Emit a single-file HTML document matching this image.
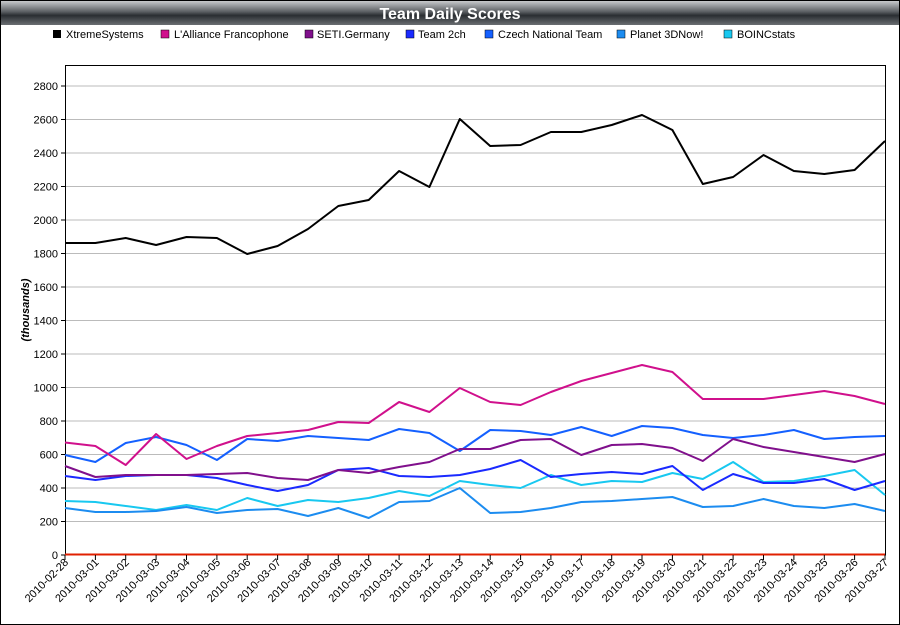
<!DOCTYPE html><html><head><style>body{margin:0;background:#fff}svg{display:block;font-family:"Liberation Sans",sans-serif}</style></head><body>
<svg width="900" height="625" xmlns="http://www.w3.org/2000/svg">
<defs><linearGradient id="g" x1="0" y1="0" x2="0" y2="1"><stop offset="0" stop-color="#c8cacc"/><stop offset="0.45" stop-color="#5a5e62"/><stop offset="0.6" stop-color="#2a2e32"/><stop offset="1" stop-color="#6a6e72"/></linearGradient></defs>
<rect x="0.5" y="0.5" width="899" height="624" fill="#fff" stroke="#000"/>
<rect x="1" y="1" width="898" height="24" fill="url(#g)"/>
<text x="450" y="19" text-anchor="middle" font-size="16" font-weight="bold" fill="#fff">Team Daily Scores</text>
<g font-size="11" fill="#000">
<rect x="53" y="30" width="8" height="8" fill="#000"/><text x="66" y="38">XtremeSystems</text>
<rect x="161" y="30" width="8" height="8" fill="#d0108c" stroke="#000" stroke-width=".5"/><text x="174" y="38">L'Alliance Francophone</text>
<rect x="305" y="30" width="8" height="8" fill="#80108c" stroke="#000" stroke-width=".5"/><text x="317" y="38">SETI.Germany</text>
<rect x="406" y="30" width="8" height="8" fill="#1a2aff" stroke="#000" stroke-width=".5"/><text x="418" y="38">Team 2ch</text>
<rect x="485" y="30" width="8" height="8" fill="#1460ff" stroke="#000" stroke-width=".5"/><text x="498" y="38">Czech National Team</text>
<rect x="617" y="30" width="8" height="8" fill="#1c8cf0" stroke="#000" stroke-width=".5"/><text x="630" y="38">Planet 3DNow!</text>
<rect x="724" y="30" width="8" height="8" fill="#18c8f0" stroke="#000" stroke-width=".5"/><text x="737" y="38">BOINCstats</text>
</g>
<g stroke="#bbb" stroke-width="1">
<line x1="65" x2="885" y1="521.5" y2="521.5"/><line x1="65" x2="885" y1="488" y2="488"/><line x1="65" x2="885" y1="454.5" y2="454.5"/><line x1="65" x2="885" y1="421" y2="421"/><line x1="65" x2="885" y1="387.5" y2="387.5"/><line x1="65" x2="885" y1="354" y2="354"/><line x1="65" x2="885" y1="320.5" y2="320.5"/><line x1="65" x2="885" y1="287" y2="287"/><line x1="65" x2="885" y1="253.5" y2="253.5"/><line x1="65" x2="885" y1="220" y2="220"/><line x1="65" x2="885" y1="186.5" y2="186.5"/><line x1="65" x2="885" y1="153" y2="153"/><line x1="65" x2="885" y1="119.5" y2="119.5"/><line x1="65" x2="885" y1="86" y2="86"/>
</g>
<rect x="65.5" y="65.5" width="820" height="489.5" fill="none" stroke="#000"/>
<g font-size="11" text-anchor="end">
<text x="58" y="559">0</text><text x="58" y="525.5">200</text><text x="58" y="492">400</text><text x="58" y="458.5">600</text><text x="58" y="425">800</text><text x="58" y="391.5">1000</text><text x="58" y="358">1200</text><text x="58" y="324.5">1400</text><text x="58" y="291">1600</text><text x="58" y="257.5">1800</text><text x="58" y="224">2000</text><text x="58" y="190.5">2200</text><text x="58" y="157">2400</text><text x="58" y="123.5">2600</text><text x="58" y="90">2800</text>
</g>
<g stroke="#000"><line x1="61" x2="65" y1="555" y2="555"/><line x1="61" x2="65" y1="521.5" y2="521.5"/><line x1="61" x2="65" y1="488" y2="488"/><line x1="61" x2="65" y1="454.5" y2="454.5"/><line x1="61" x2="65" y1="421" y2="421"/><line x1="61" x2="65" y1="387.5" y2="387.5"/><line x1="61" x2="65" y1="354" y2="354"/><line x1="61" x2="65" y1="320.5" y2="320.5"/><line x1="61" x2="65" y1="287" y2="287"/><line x1="61" x2="65" y1="253.5" y2="253.5"/><line x1="61" x2="65" y1="220" y2="220"/><line x1="61" x2="65" y1="186.5" y2="186.5"/><line x1="61" x2="65" y1="153" y2="153"/><line x1="61" x2="65" y1="119.5" y2="119.5"/><line x1="61" x2="65" y1="86" y2="86"/></g>
<text transform="translate(29,310) rotate(-90)" text-anchor="middle" font-size="11" font-weight="bold" font-style="italic">(thousands)</text>
<line x1="65" x2="885" y1="554.5" y2="554.5" stroke="#e02000" stroke-width="2"/>
<g fill="none" stroke-width="2" stroke-linejoin="round">
<polyline stroke="#18c8f0" points="65,501 95.4,502 125.7,506 156.1,510 186.5,505 216.9,510 247.2,498 277.6,506 308,500 338.3,502 368.7,498 399.1,491 429.4,496 459.8,481 490.2,485 520.6,488 550.9,475 581.3,485 611.7,481 642,482 672.4,473 702.8,479 733.1,462 763.5,482 793.9,481 824.3,476 854.6,470 885,495"/>
<polyline stroke="#1c8cf0" points="65,508 95.4,512 125.7,512 156.1,511 186.5,507 216.9,513 247.2,510 277.6,509 308,516 338.3,508 368.7,518 399.1,502 429.4,501 459.8,488 490.2,513 520.6,512 550.9,508 581.3,502 611.7,501 642,499 672.4,497 702.8,507 733.1,506 763.5,499 793.9,506 824.3,508 854.6,504 885,511"/>
<polyline stroke="#1460ff" points="65,455 95.4,462 125.7,443 156.1,437 186.5,445 216.9,460 247.2,439 277.6,441 308,436 338.3,438 368.7,440 399.1,429 429.4,433 459.8,451 490.2,430 520.6,431 550.9,435 581.3,427 611.7,436 642,426 672.4,428 702.8,435 733.1,438 763.5,435 793.9,430 824.3,439 854.6,437 885,436"/>
<polyline stroke="#1a2aff" points="65,476 95.4,480 125.7,476 156.1,475 186.5,475 216.9,478 247.2,485 277.6,491 308,485 338.3,470 368.7,468 399.1,476 429.4,477 459.8,475 490.2,469 520.6,460 550.9,477 581.3,474 611.7,472 642,474 672.4,466 702.8,490 733.1,474 763.5,483 793.9,483 824.3,479 854.6,490 885,481"/>
<polyline stroke="#80108c" points="65,466 95.4,477 125.7,475 156.1,475 186.5,475 216.9,474 247.2,473 277.6,478 308,480 338.3,470 368.7,473 399.1,467 429.4,462 459.8,449 490.2,449 520.6,440 550.9,439 581.3,455 611.7,445 642,444 672.4,448 702.8,461 733.1,439 763.5,447 793.9,452 824.3,457 854.6,462 885,454"/>
<polyline stroke="#d0108c" points="65,442.5 95.4,446 125.7,465 156.1,434 186.5,459 216.9,446 247.2,436 277.6,433 308,430 338.3,422 368.7,423 399.1,402 429.4,412 459.8,388 490.2,402 520.6,405 550.9,392 581.3,381 611.7,373 642,365 672.4,372 702.8,399 733.1,399 763.5,399 793.9,395 824.3,391 854.6,396 885,404"/>
<polyline stroke="#000" points="65,243 95.4,243 125.7,238 156.1,245 186.5,237 216.9,238 247.2,254 277.6,246 308,229 338.3,206 368.7,200 399.1,171 429.4,187 459.8,119 490.2,146 520.6,145 550.9,132 581.3,132 611.7,125 642,115 672.4,130 702.8,184 733.1,177 763.5,155 793.9,171 824.3,174 854.6,170 885,141"/>
</g>
<g stroke="#000"><line x1="65" x2="65" y1="555" y2="560"/><line x1="95.4" x2="95.4" y1="555" y2="560"/><line x1="125.7" x2="125.7" y1="555" y2="560"/><line x1="156.1" x2="156.1" y1="555" y2="560"/><line x1="186.5" x2="186.5" y1="555" y2="560"/><line x1="216.9" x2="216.9" y1="555" y2="560"/><line x1="247.2" x2="247.2" y1="555" y2="560"/><line x1="277.6" x2="277.6" y1="555" y2="560"/><line x1="308" x2="308" y1="555" y2="560"/><line x1="338.3" x2="338.3" y1="555" y2="560"/><line x1="368.7" x2="368.7" y1="555" y2="560"/><line x1="399.1" x2="399.1" y1="555" y2="560"/><line x1="429.4" x2="429.4" y1="555" y2="560"/><line x1="459.8" x2="459.8" y1="555" y2="560"/><line x1="490.2" x2="490.2" y1="555" y2="560"/><line x1="520.6" x2="520.6" y1="555" y2="560"/><line x1="550.9" x2="550.9" y1="555" y2="560"/><line x1="581.3" x2="581.3" y1="555" y2="560"/><line x1="611.7" x2="611.7" y1="555" y2="560"/><line x1="642" x2="642" y1="555" y2="560"/><line x1="672.4" x2="672.4" y1="555" y2="560"/><line x1="702.8" x2="702.8" y1="555" y2="560"/><line x1="733.1" x2="733.1" y1="555" y2="560"/><line x1="763.5" x2="763.5" y1="555" y2="560"/><line x1="793.9" x2="793.9" y1="555" y2="560"/><line x1="824.3" x2="824.3" y1="555" y2="560"/><line x1="854.6" x2="854.6" y1="555" y2="560"/><line x1="885" x2="885" y1="555" y2="560"/></g>
<g font-size="11" text-anchor="end">
<text transform="translate(69,563) rotate(-45)">2010-02-28</text>
<text transform="translate(99.4,563) rotate(-45)">2010-03-01</text>
<text transform="translate(129.7,563) rotate(-45)">2010-03-02</text>
<text transform="translate(160.1,563) rotate(-45)">2010-03-03</text>
<text transform="translate(190.5,563) rotate(-45)">2010-03-04</text>
<text transform="translate(220.9,563) rotate(-45)">2010-03-05</text>
<text transform="translate(251.2,563) rotate(-45)">2010-03-06</text>
<text transform="translate(281.6,563) rotate(-45)">2010-03-07</text>
<text transform="translate(312,563) rotate(-45)">2010-03-08</text>
<text transform="translate(342.3,563) rotate(-45)">2010-03-09</text>
<text transform="translate(372.7,563) rotate(-45)">2010-03-10</text>
<text transform="translate(403.1,563) rotate(-45)">2010-03-11</text>
<text transform="translate(433.4,563) rotate(-45)">2010-03-12</text>
<text transform="translate(463.8,563) rotate(-45)">2010-03-13</text>
<text transform="translate(494.2,563) rotate(-45)">2010-03-14</text>
<text transform="translate(524.6,563) rotate(-45)">2010-03-15</text>
<text transform="translate(554.9,563) rotate(-45)">2010-03-16</text>
<text transform="translate(585.3,563) rotate(-45)">2010-03-17</text>
<text transform="translate(615.7,563) rotate(-45)">2010-03-18</text>
<text transform="translate(646,563) rotate(-45)">2010-03-19</text>
<text transform="translate(676.4,563) rotate(-45)">2010-03-20</text>
<text transform="translate(706.8,563) rotate(-45)">2010-03-21</text>
<text transform="translate(737.1,563) rotate(-45)">2010-03-22</text>
<text transform="translate(767.5,563) rotate(-45)">2010-03-23</text>
<text transform="translate(797.9,563) rotate(-45)">2010-03-24</text>
<text transform="translate(828.3,563) rotate(-45)">2010-03-25</text>
<text transform="translate(858.6,563) rotate(-45)">2010-03-26</text>
<text transform="translate(889,563) rotate(-45)">2010-03-27</text>
</g>
<rect x="0.5" y="0.5" width="899" height="624" fill="none" stroke="#000"/>
</svg></body></html>
